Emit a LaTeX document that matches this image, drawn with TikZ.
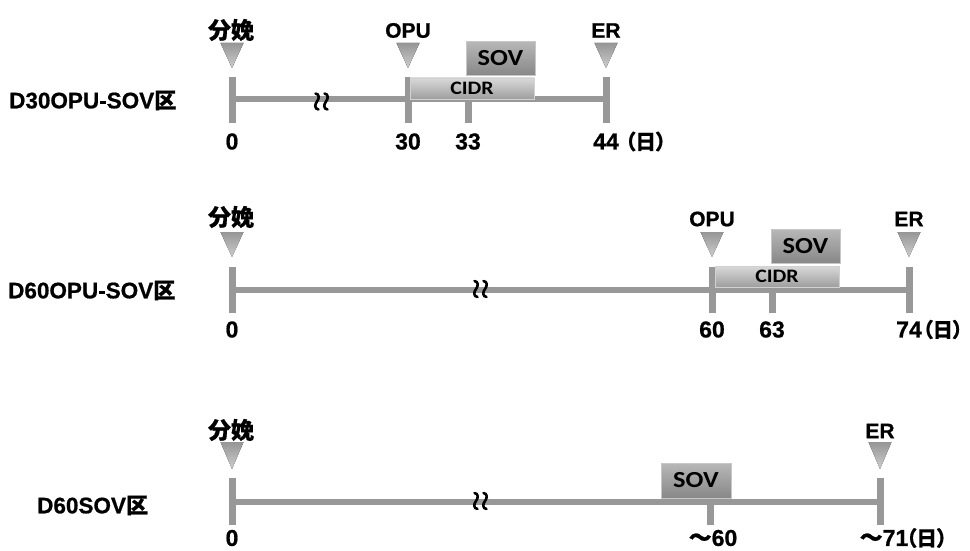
\documentclass[tikz,border=0pt]{standalone}
\usepackage{fontspec}
\usetikzlibrary{calc}
\newfontfamily\jpfont{Noto Sans CJK JP}[BoldFeatures={FakeBold=0.6}]
\newfontfamily\jppfont{Noto Sans CJK JP}[RawFeature=+palt, BoldFeatures={FakeBold=0.6}]
\newfontfamily\latfont{Liberation Sans}[BoldFeatures={FakeBold=0.8}]
\newfontfamily\boxfont{Carlito}[FakeStretch=1.15]
\definecolor{axisgray}{RGB}{152,152,152}
\definecolor{tritop}{RGB}{150,150,150}
\definecolor{tribot}{RGB}{205,205,205}
\tikzset{
  axisline/.style={draw=axisgray, line width=6pt},
  tickmark/.style={draw=axisgray, line width=7pt},
  evlabel/.style={font=\latfont\bfseries\fontsize{21}{21}\selectfont, inner sep=0pt, text=black},
  jplabel/.style={font=\jpfont\bfseries\fontsize{23}{23}\selectfont, inner sep=0pt, text=black},
  daylabel/.style={font=\latfont\bfseries\fontsize{23}{23}\selectfont, inner sep=0pt, text=black},
  unitlabel/.style={font=\jppfont\bfseries\fontsize{20.5}{20.5}\selectfont, inner sep=0pt, text=black},
  rowlabel/.style={font=\latfont\bfseries\fontsize{22.5}{22.5}\selectfont, inner sep=0pt, anchor=west, text=black},
  marker/.style={top color=tritop, bottom color=tribot, draw=none},
  sovbox/.style={draw=black!22, line width=0.8pt, top color=black!28, bottom color=black!47,
    minimum width=69pt, minimum height=34pt, inner sep=0pt,
    font=\boxfont\bfseries\fontsize{23}{23}\selectfont},
  cidrbox/.style={draw=black!18, line width=0.8pt, top color=black!15, bottom color=black!38,
    minimum width=124pt, minimum height=21pt, inner sep=0pt,
    font=\boxfont\bfseries\fontsize{19}{19}\selectfont},
  breakmark/.pic={
    \draw[black, line width=2.6pt, line cap=round]
      (-6,-8) .. controls (-2,-7.5) and (-2,-3) .. (-4.5,0) .. controls (-7,3) and (-7,7.5) .. (-3,8)
      (3,-8) .. controls (7,-7.5) and (7,-3) .. (4.5,0) .. controls (2,3) and (2,7.5) .. (6,8);
  }
}
\newcommand{\ku}{{\jpfont\fontsize{22}{22}\selectfont 区}}
\begin{document}
\begin{tikzpicture}[x=1pt, y=-1pt]
\path[use as bounding box] (0,0) rectangle (970,551);

% ---------------- D30OPU-SOV ----------------
\node[rowlabel] (r1) at (9,100.5) {D30OPU-SOV\ku};
\coordinate (a0) at (232,99);
\coordinate (a30) at (408,99);
\coordinate (a33) at (468,99);
\coordinate (a44) at (606,99);
\draw[axisline] (a0) -- (a44);
\draw[tickmark] ($(a0)+(0,-22)$) -- ($(a0)+(0,24)$);
\draw[tickmark] ($(a30)+(0,-22)$) -- ($(a30)+(0,24)$);
\draw[tickmark] (a33) -- ($(a33)+(0,24)$);
\draw[tickmark] ($(a44)+(0,-22)$) -- ($(a44)+(0,24)$);
\node[cidrbox] (cidr1) at (472,88.5) {CIDR};
\node[sovbox] (sov1) at (500.5,58.5) {SOV};
\pic at (321.5,101.5) {breakmark};
\foreach \c in {a0,a30,a44}
  \fill[marker] ($(\c)+(-11.5,-56)$) -- ($(\c)+(11.5,-56)$) -- ($(\c)+(0,-31)$) -- cycle;
\node[jplabel] (e1a) at (231,30) {分娩};
\node[evlabel] (e1b) at (408,30.5) {OPU};
\node[evlabel] (e1c) at (606,30.5) {ER};
\node[daylabel] (d1a) at (232,141.5) {0};
\node[daylabel] (d1b) at (408,141.5) {30};
\node[daylabel] (d1c) at (468,141.5) {33};
\node[daylabel] (d1d) at (606,141.5) {44};
\node[unitlabel, anchor=west] (d1u) at (625,141.5) {（日）};

% ---------------- D60OPU-SOV ----------------
\node[rowlabel] (r2) at (8,290.5) {D60OPU-SOV\ku};
\coordinate (b0) at (232,290);
\coordinate (b60) at (712,290);
\coordinate (b63) at (772,290);
\coordinate (b74) at (909,290);
\draw[axisline] (b0) -- (b74);
\draw[tickmark] ($(b0)+(0,-23)$) -- ($(b0)+(0,23)$);
\draw[tickmark] ($(b60)+(0,-23)$) -- ($(b60)+(0,23)$);
\draw[tickmark] (b63) -- ($(b63)+(0,23)$);
\draw[tickmark] ($(b74)+(0,-23)$) -- ($(b74)+(0,23)$);
\node[cidrbox] (cidr2) at (777,276.5) {CIDR};
\node[sovbox] (sov2) at (805.5,246) {SOV};
\pic at (480.5,289) {breakmark};
\foreach \c in {b0,b60,b74}
  \fill[marker] ($(\c)+(-11.5,-58)$) -- ($(\c)+(11.5,-58)$) -- ($(\c)+(0,-33)$) -- cycle;
\node[jplabel] (e2a) at (231,217) {分娩};
\node[evlabel] (e2b) at (712,219) {OPU};
\node[evlabel] (e2c) at (909,219) {ER};
\node[daylabel] (d2a) at (232,329.5) {0};
\node[daylabel] (d2b) at (712,329.5) {60};
\node[daylabel] (d2c) at (772,329.5) {63};
\node[daylabel] (d2d) at (909,329.5) {74};
\node[unitlabel, anchor=east, font=\jppfont\bfseries\fontsize{20}{20}\selectfont] (d2u) at (963,329.5) {（日）};

% ---------------- D60SOV ----------------
\node[rowlabel] (r3) at (37,505.5) {D60SOV\ku};
\coordinate (c0) at (232,502);
\coordinate (c60) at (710,502);
\coordinate (c71) at (880,502);
\draw[axisline] (c0) -- (c71);
\draw[tickmark] ($(c0)+(0,-24)$) -- ($(c0)+(0,23)$);
\draw[tickmark] (c60) -- ($(c60)+(0,23)$);
\draw[tickmark] ($(c71)+(0,-24)$) -- ($(c71)+(0,23)$);
\node[sovbox, minimum width=70pt, minimum height=35pt] (sov3) at (696,480.5) {SOV};
\pic at (480.5,501) {breakmark};
\foreach \c in {c0,c71}
  \fill[marker] ($(\c)+(-11.5,-60)$) -- ($(\c)+(11.5,-60)$) -- ($(\c)+(0,-33)$) -- cycle;
\node[jplabel] (e3a) at (231,430) {分娩};
\node[evlabel] (e3c) at (880,431) {ER};
\node[daylabel] (d3a) at (232,538) {0};
\node[daylabel] (d3b) at (713,538) {{\jppfont ～}60};
\node[daylabel] (d3c) at (884,538) {{\jppfont ～}71};
\node[unitlabel, anchor=west] (d3u) at (906,538) {（日）};
\end{tikzpicture}
\end{document}
